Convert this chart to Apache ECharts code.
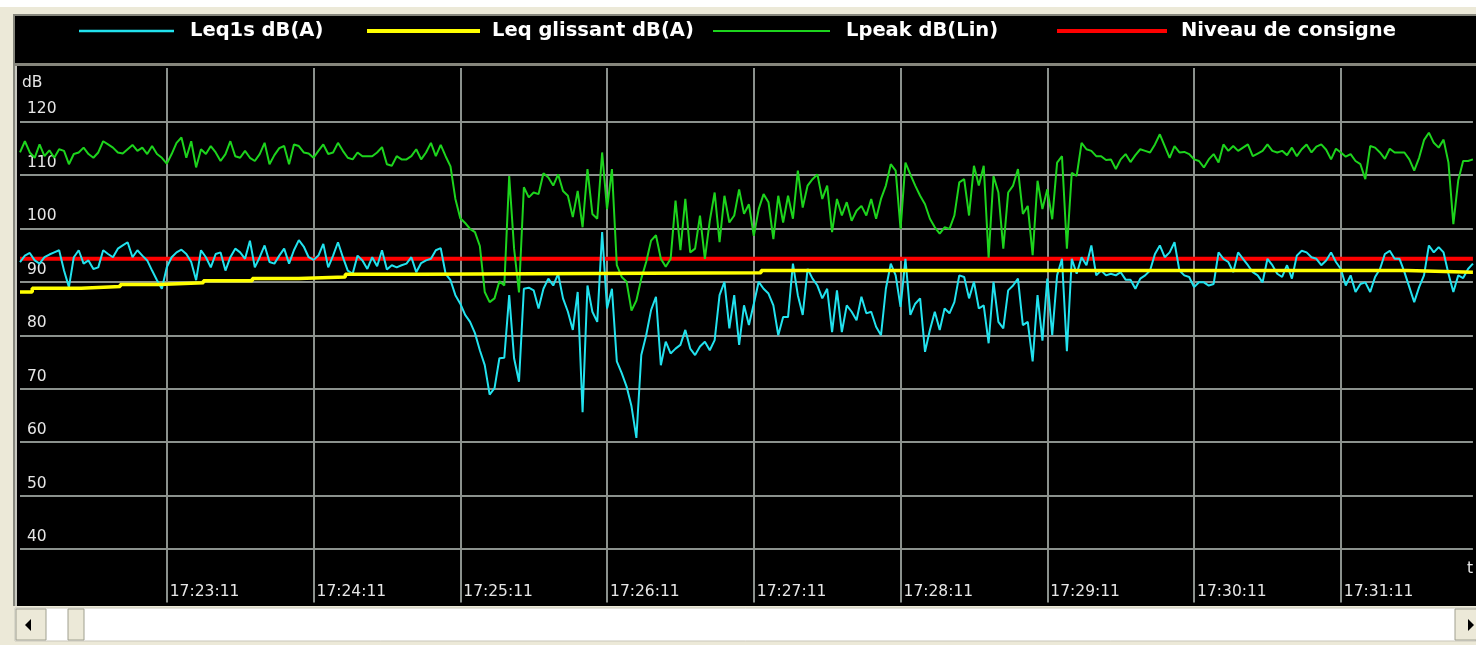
<!DOCTYPE html>
<html>
<head>
<meta charset="utf-8">
<script src="https://cdn.jsdelivr.net/npm/echarts@6/dist/echarts.min.js"></script>
<style>
  html, body { margin: 0; padding: 0; background: #ECE9D8; }
  #chart { width: 1476px; height: 645px; }
</style>
</head>
<body>
<div id="chart"></div>
<script>
// time axis: seconds after 17:22:11, one reading every 2 s
var stepSeconds = 2;
var xTickLabels = ["17:23:11", "17:24:11", "17:25:11", "17:26:11", "17:27:11",
                   "17:28:11", "17:29:11", "17:30:11", "17:31:11"];

var leq1s = [
  93.7, 94.9, 95.4, 94.0, 93.4, 94.6, 95.1, 95.5, 95.9, 92.1,
  89.0, 94.6, 95.9, 93.4, 94.0, 92.4, 92.7, 95.9, 95.2, 94.6,
  96.2, 96.8, 97.4, 94.6, 95.9, 94.9, 94.0, 92.1, 90.3, 88.7,
  92.7, 94.6, 95.5, 96.0, 95.2, 93.7, 90.3, 95.9, 94.6, 92.7,
  95.2, 95.5, 92.1, 94.6, 96.2, 95.5, 94.3, 97.7, 92.7, 94.6,
  96.8,
  93.7, 93.4, 94.9, 96.2, 93.4, 95.9, 97.8, 96.6, 94.6, 94.1,
  94.9, 97.1, 92.7, 94.9, 97.4, 94.6, 92.1, 91.5, 94.9, 94.0,
  92.4, 94.6, 92.9, 95.9, 92.3, 93.1, 92.7, 93.1, 93.4, 94.6,
  91.8, 93.5, 94.0, 94.3, 95.9,
  96.3, 91.5, 90.3, 87.5, 85.9, 83.8, 82.5, 80.4, 77.2, 74.4,
  68.9, 70.1, 75.7, 75.8, 87.5, 75.7, 71.3, 88.7, 88.9, 88.4,
  85.0, 88.7, 90.6, 89.3, 91.5, 86.9, 84.4, 81.0, 88.1, 65.6,
  89.3, 84.4, 82.5, 99.3, 85.0, 88.7, 75.1, 72.9, 70.4, 66.7,
  60.8, 76.3, 80.0, 84.7, 87.2, 74.4, 78.8, 76.6, 77.5, 78.2,
  81.0, 77.5,
  76.3, 77.9, 78.8, 77.2, 79.1, 87.5, 90.0, 81.3, 87.5, 78.2,
  85.6, 81.9, 85.9, 90.0, 88.7, 87.8, 85.6, 80.0, 83.4, 83.4,
  93.4, 87.5, 83.8, 92.4, 90.6, 89.3, 86.9, 88.7, 80.6, 88.4,
  80.6, 85.6, 84.4, 82.8, 87.2, 84.1, 84.4, 81.6, 80.0, 88.7,
  93.4, 91.2, 85.3, 94.3, 83.8, 85.9, 86.9, 76.9, 81.0, 84.4,
  81.0, 85.0, 84.1, 86.2, 91.2, 90.9, 86.9, 90.0, 85.0, 85.6,
  78.5, 90.0, 82.5, 81.3, 88.4, 89.3, 90.6, 81.9, 82.5, 75.1,
  87.5, 79.0,
  90.6, 80.0, 91.2, 94.3, 77.0, 94.3, 91.5, 94.6, 93.1, 96.8,
  91.2, 92.1, 91.2, 91.5, 91.2, 91.8, 90.4, 90.4, 88.7, 90.6,
  91.2, 92.1, 95.2, 96.8, 94.6, 95.5, 97.4, 92.1, 91.2, 90.9,
  89.0, 89.9, 89.9, 89.3, 89.6, 95.5, 94.3, 93.7, 91.8, 95.5,
  94.3, 93.1, 91.8, 91.2, 89.9, 94.3, 93.1, 91.5, 90.9, 93.1,
  90.6, 94.9, 95.8, 95.5, 94.6, 94.3, 93.1, 94.0, 95.5, 93.7,
  92.4, 89.3, 91.2, 88.1, 89.6, 89.9, 88.1, 90.9, 92.4, 95.2,
  95.8, 94.3, 94.3, 91.8, 89.0, 86.2, 89.0, 91.2, 96.8, 95.5,
  96.5, 95.5, 91.5, 88.1, 91.2, 90.7, 92.4, 93.4
];

var lpeak = [
  114.2, 116.3, 114.2, 113.2, 115.7, 113.5, 114.6, 113.2, 114.8, 114.5,
  112.0, 113.9, 114.2, 115.1, 113.9, 113.2, 114.2, 116.3, 115.7, 115.1,
  114.2, 114.0, 114.8, 115.6, 114.5, 115.1, 113.9, 115.4, 113.9, 113.2,
  112.1, 113.9, 116.0, 117.0, 113.2, 116.3, 111.4, 114.8, 113.9, 115.4,
  114.2, 112.6, 113.9, 116.3, 113.5, 113.2, 114.5, 113.2, 112.6, 113.9,
  116.0,
  112.0, 113.7, 115.0, 115.4, 112.0, 115.7, 115.4, 114.2, 114.0, 113.2,
  114.5, 115.7, 113.9, 114.2, 116.0, 114.5, 113.2, 112.9, 114.2, 113.5,
  113.5, 113.5, 114.2, 115.2, 112.0, 111.7, 113.5, 112.9, 112.9, 113.5,
  114.8, 112.9, 114.2, 116.0, 113.5, 115.6, 113.5, 111.6,
  105.5, 101.9, 101.0, 99.9, 99.3, 96.7, 88.1, 86.2, 86.9, 90.1, 89.3,
  109.8, 96.2, 88.0, 107.7, 105.8, 106.7, 106.4, 110.3, 109.5, 108.0,
  110.1, 107.0, 106.1, 102.1, 107.0, 100.2, 111.1, 102.7, 101.8, 114.2,
  103.6, 111.1, 93.1, 90.9, 90.0, 84.6, 86.5, 90.6, 93.7, 97.7,
  98.7, 94.3, 92.8, 94.3, 105.2, 95.9, 105.5, 95.5,
  96.2, 102.4, 94.3, 101.4, 106.7, 97.4, 106.1, 101.1, 102.4, 107.3,
  102.7, 104.5, 98.6, 103.6, 106.4, 104.9, 98.0, 106.1, 101.1, 106.1,
  101.8, 110.8, 103.9, 108.0, 109.2, 110.1, 105.5, 108.0, 99.3, 105.5,
  102.4, 104.9, 101.4, 103.3, 104.2, 102.4, 105.5, 101.8, 105.5, 108.0,
  112.0, 110.8, 99.9, 112.3, 110.1, 108.0, 106.1, 104.5, 101.8, 100.2,
  99.0, 100.2, 99.9, 102.4, 108.6, 109.2, 102.4, 111.7, 108.0, 111.7,
  94.5, 109.8, 106.7, 96.2, 106.7, 108.0, 111.1, 102.7, 104.2, 95.0,
  108.9, 103.6,
  107.3, 101.7, 112.3, 113.5, 96.2, 110.4, 109.8, 116.0, 114.8, 114.5,
  113.5, 113.5, 112.8, 112.9, 111.1, 112.9, 113.9, 112.4, 113.7, 114.8,
  114.5, 114.2, 115.7, 117.6, 115.4, 113.2, 115.4, 114.2, 114.3, 113.9,
  112.9, 112.6, 111.4, 112.9, 113.9, 112.3, 115.7, 114.5, 115.4, 114.5,
  115.1, 115.7, 113.5, 114.0, 114.5, 115.7, 114.5, 114.2, 114.5, 113.7,
  115.1, 113.5, 114.8, 115.7, 114.2, 115.3, 115.7, 114.7, 112.9, 114.9,
  114.2, 113.4, 113.9, 112.6, 112.0, 109.2, 115.4, 115.1, 114.2, 113.0,
  114.9, 114.2, 114.2, 114.2, 112.9, 110.8, 113.2, 116.5, 117.9, 116.0,
  115.1, 116.6, 112.3, 100.8, 109.0, 112.6, 112.6, 112.9
];

// rolling Leq: a staircase, seconds and levels where each step starts
var glissantTimes = [0, 5, 25, 41, 57, 75, 95, 114, 133, 164, 303, 567, 594];
var glissantValues = [88.1, 88.8, 89.1, 89.5, 89.8, 90.2, 90.6, 90.9, 91.4, 91.7, 92.1, 91.8, 91.8];

var consigneTimes = [0, 594];
var consigneValues = [94.3, 94.3];

var cyan = "#22e2ee";
var yellow = "#ffff00";
var green = "#1dd41d";
var red = "#ff0000";
var gridGray = "#8b918d";
var frameGray = "#86867c";

function toPairs(values) {
  return values.map(function (v, i) { return [i * stepSeconds, v]; });
}
function zipPairs(times, values) {
  return times.map(function (t, i) { return [t, values[i]]; });
}

var chart = echarts.init(document.getElementById("chart"));

var legendText = {
  color: "#ffffff",
  fontWeight: "bold",
  fontFamily: "DejaVu Sans",
  fontSize: 19.5,
  lineHeight: 22
};
function legendAt(name, left, width, height, gap) {
  return {
    data: [name],
    left: left,
    top: 20,
    padding: 0,
    icon: "rect",
    itemWidth: width,
    itemHeight: height,
    selectedMode: false,
    textStyle: Object.assign({ padding: [0, 0, 0, gap - 5] }, legendText)
  };
}

var transparent = "rgba(0,0,0,0)";
var lineColors = [transparent, gridGray, gridGray, gridGray, gridGray, gridGray,
                  gridGray, gridGray, gridGray, gridGray, transparent];

var option = {
  animation: false,
  backgroundColor: "#ECE9D8",
  graphic: [
    { type: "rect", z: -10, shape: { x: 0, y: 0, width: 1476, height: 7 }, style: { fill: "#ffffff" } },
    { type: "rect", z: -10, shape: { x: 13, y: 14, width: 1463, height: 592 }, style: { fill: "#000000" } },
    { type: "rect", z: -9, shape: { x: 13, y: 14, width: 1463, height: 2 }, style: { fill: frameGray } },
    { type: "rect", z: -9, shape: { x: 13, y: 14, width: 2, height: 592 }, style: { fill: frameGray } },
    { type: "rect", z: -9, shape: { x: 13, y: 63, width: 1463, height: 3 }, style: { fill: frameGray } },
    { type: "rect", z: -9, shape: { x: 15, y: 66, width: 2, height: 540 }, style: { fill: "#c8c8c0" } },
    // scrollbar
    { type: "rect", z: -10, shape: { x: 15, y: 608, width: 1461, height: 33 }, style: { fill: "#ffffff", stroke: "#c9c7ba", lineWidth: 1 } },
    { type: "rect", z: -9, shape: { x: 16, y: 609, width: 30, height: 31 }, style: { fill: "#ECE9D8", stroke: "#a0a090", lineWidth: 1 } },
    { type: "polygon", z: -8, shape: { points: [[25, 625], [31, 619], [31, 631]] }, style: { fill: "#000000" } },
    { type: "rect", z: -9, shape: { x: 68, y: 609, width: 16, height: 31 }, style: { fill: "#ECE9D8", stroke: "#a0a090", lineWidth: 1 } },
    { type: "rect", z: -9, shape: { x: 1455, y: 609, width: 30, height: 31 }, style: { fill: "#ECE9D8", stroke: "#a0a090", lineWidth: 1 } },
    { type: "polygon", z: -8, shape: { points: [[1474, 625], [1468, 619], [1468, 631]] }, style: { fill: "#000000" } }
  ],
  legend: [
    legendAt("Leq1s dB(A)", 79, 95, 2.5, 16),
    legendAt("Leq glissant dB(A)", 367, 113, 4, 12),
    legendAt("Lpeak dB(Lin)", 713, 117, 2, 16),
    legendAt("Niveau de consigne", 1057, 110, 4, 14)
  ],
  grid: { left: 20, right: 0, top: 68, bottom: 41 },
  xAxis: {
    type: "value",
    min: 0,
    max: 594,
    interval: 60,
    // the trailing blank lines lift the cut-off "t" above the time labels
    name: "t\n\n\n\n",
    nameLocation: "end",
    nameGap: -6,
    nameTextStyle: {
      color: "#e6e6e6", fontFamily: "DejaVu Sans", fontSize: 15.5,
      lineHeight: 17, align: "left", verticalAlign: "middle"
    },
    axisLine: { show: false },
    axisTick: { show: false },
    splitLine: { show: true, lineStyle: { color: lineColors, width: 2 } },
    axisLabel: {
      inside: true,
      margin: 11,
      align: "left",
      verticalAlign: "middle",
      padding: [0, 0, 0, 3],
      showMinLabel: false,
      showMaxLabel: false,
      color: "#e6e6e6",
      fontFamily: "DejaVu Sans",
      fontSize: 15.5,
      formatter: function (v) {
        if (v % 60 !== 0) return "";
        return xTickLabels[v / 60 - 1] || "";
      }
    }
  },
  yAxis: {
    type: "value",
    min: 30,
    max: 130,
    interval: 10,
    name: "dB",
    nameLocation: "end",
    nameGap: -15,
    nameTextStyle: {
      color: "#e6e6e6", fontFamily: "DejaVu Sans", fontSize: 15.5,
      align: "left", verticalAlign: "middle", padding: [0, 0, 0, 2]
    },
    axisLine: { show: false },
    axisTick: { show: false },
    splitLine: { show: true, lineStyle: { color: lineColors, width: 2 } },
    axisLabel: {
      inside: true,
      margin: 7,
      align: "left",
      verticalAlign: "bottom",
      lineHeight: 18,
      padding: [0, 0, 3, 0],
      showMinLabel: false,
      showMaxLabel: false,
      color: "#e6e6e6",
      fontFamily: "DejaVu Sans",
      fontSize: 15.5
    }
  },
  series: [
    {
      name: "Niveau de consigne",
      type: "line",
      z: 1,
      showSymbol: false,
      data: zipPairs(consigneTimes, consigneValues),
      itemStyle: { color: red },
      lineStyle: { color: red, width: 4 }
    },
    {
      name: "Lpeak dB(Lin)",
      type: "line",
      z: 2,
      showSymbol: false,
      data: toPairs(lpeak),
      itemStyle: { color: green },
      lineStyle: { color: green, width: 2 }
    },
    {
      name: "Leq1s dB(A)",
      type: "line",
      z: 3,
      showSymbol: false,
      data: toPairs(leq1s),
      itemStyle: { color: cyan },
      lineStyle: { color: cyan, width: 2 }
    },
    {
      name: "Leq glissant dB(A)",
      type: "line",
      z: 4,
      step: "end",
      showSymbol: false,
      data: zipPairs(glissantTimes, glissantValues),
      itemStyle: { color: yellow },
      lineStyle: { color: yellow, width: 3.5 }
    }
  ]
};

option && chart.setOption(option);
</script>
</body>
</html>
